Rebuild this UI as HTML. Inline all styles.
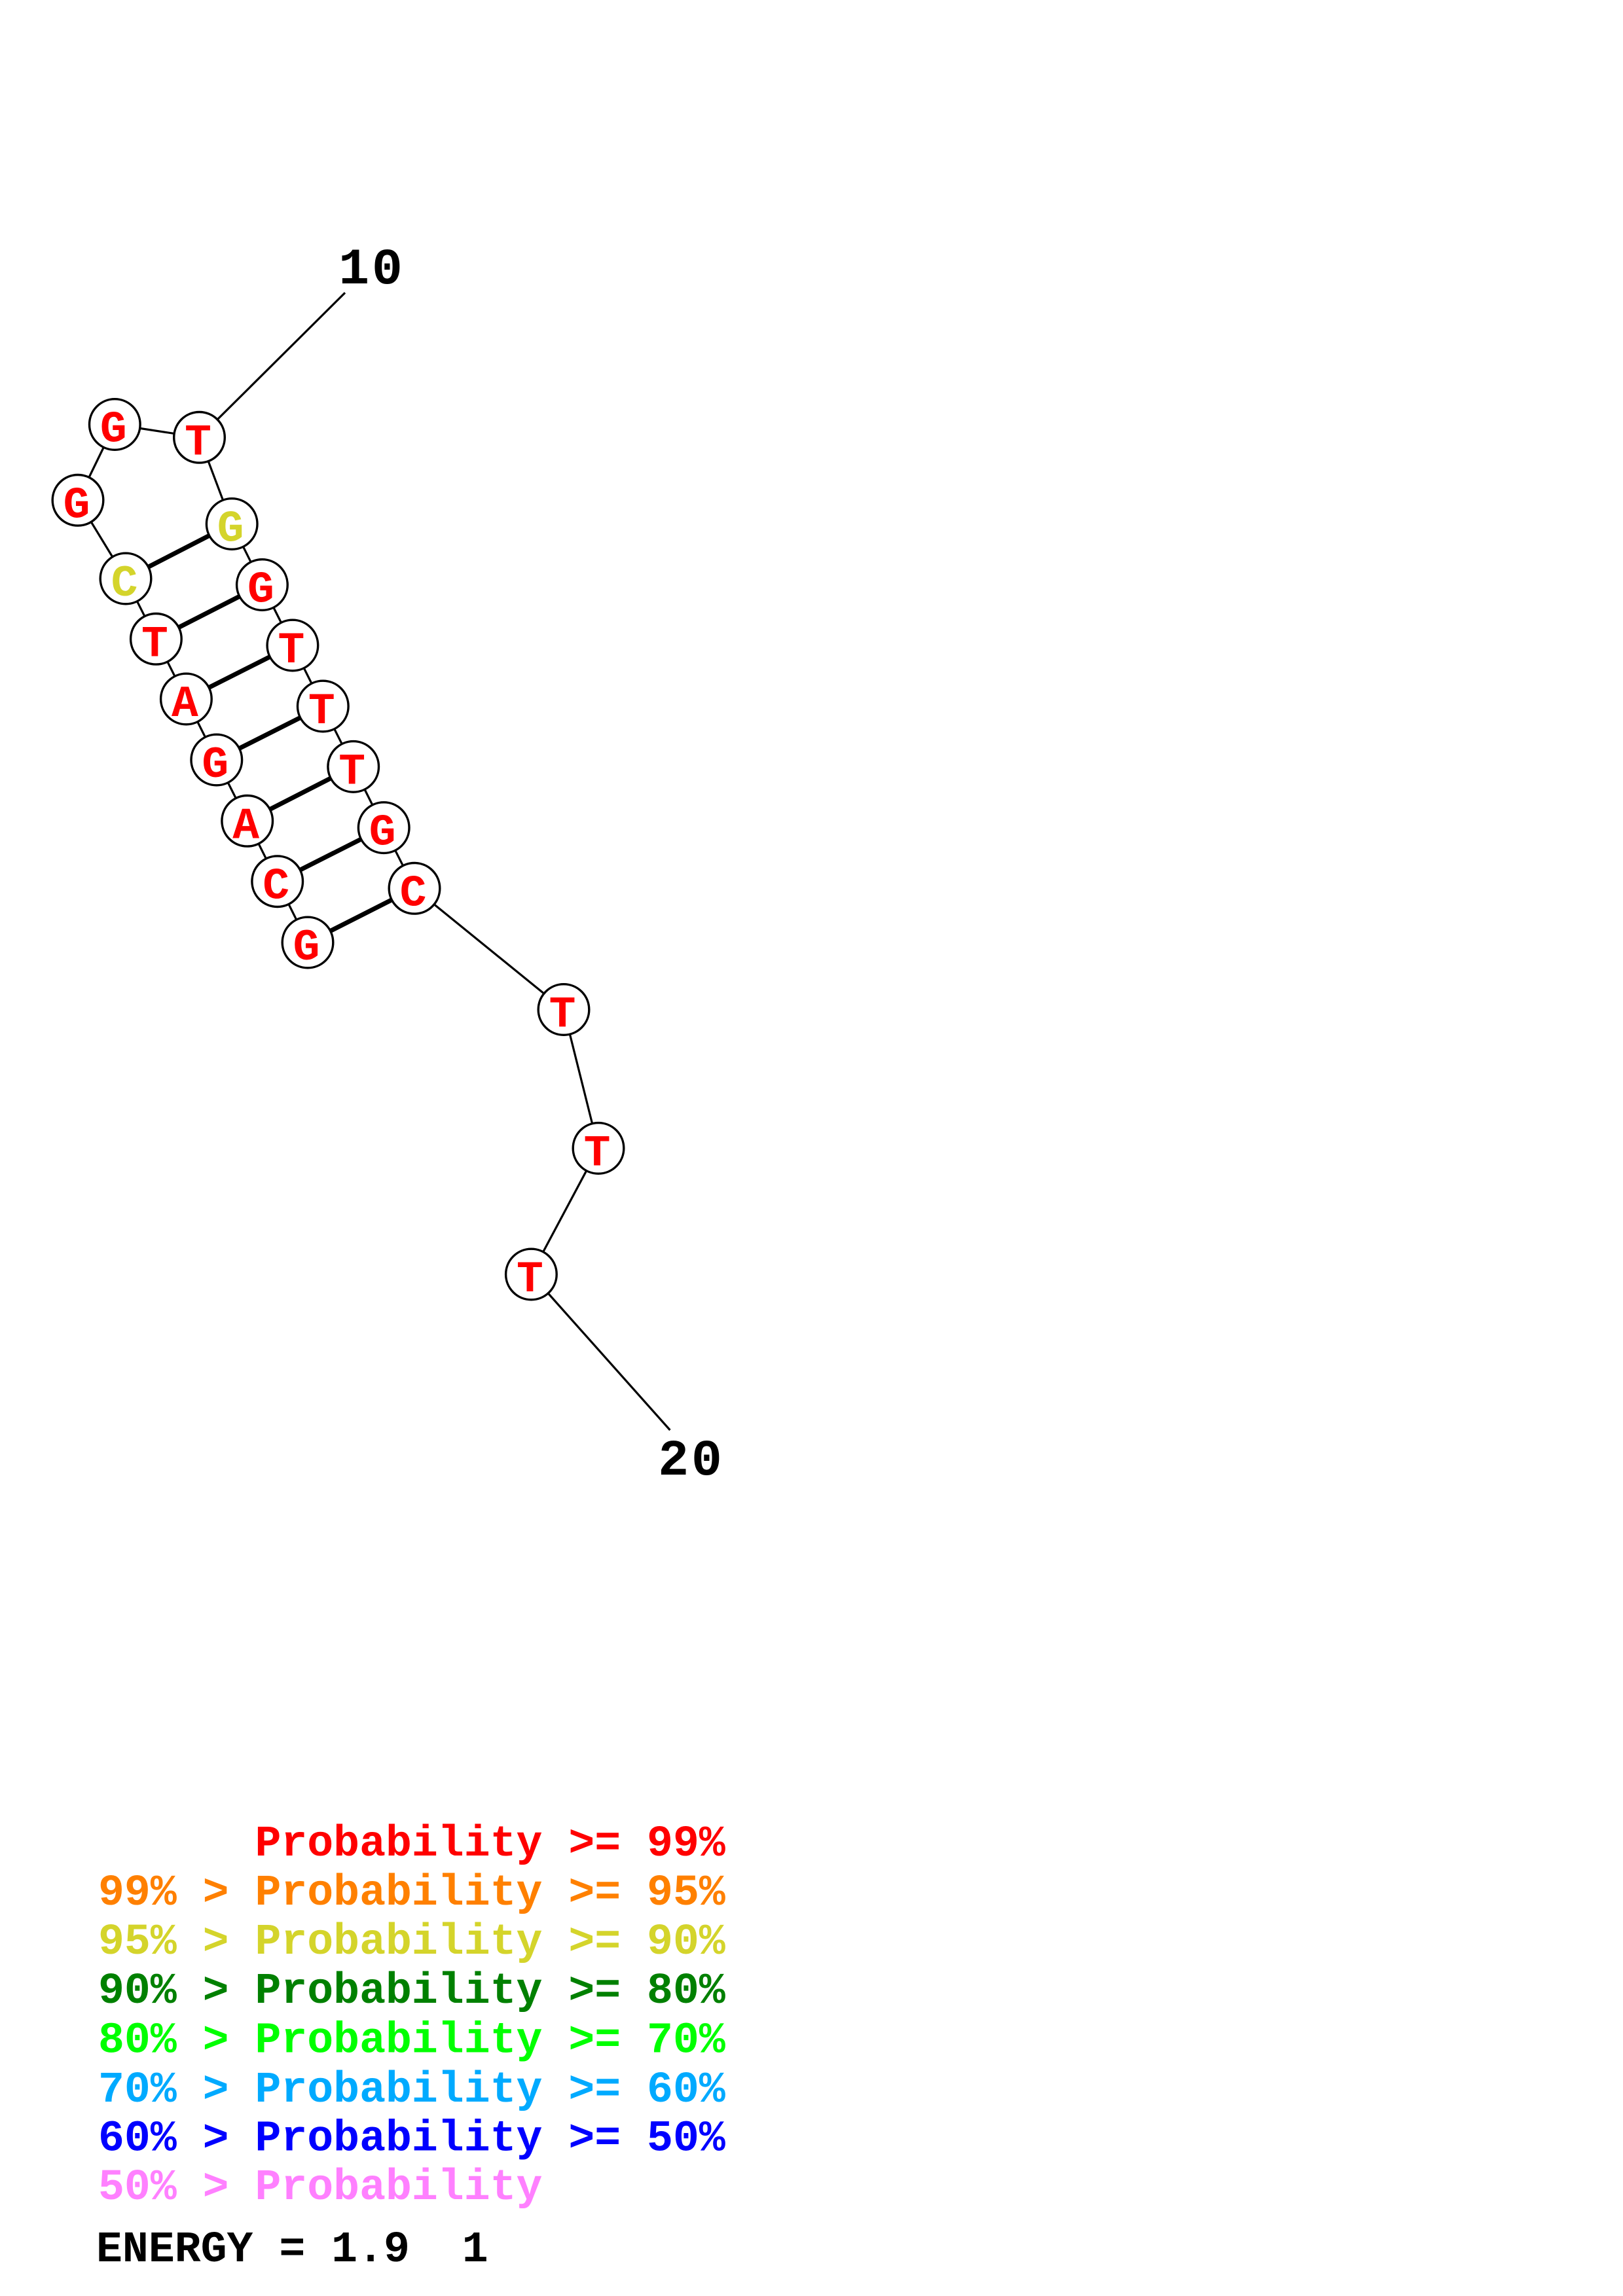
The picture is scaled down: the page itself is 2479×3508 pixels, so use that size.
<!DOCTYPE html>
<html>
<head>
<meta charset="utf-8">
<style>
  html, body { margin: 0; padding: 0; background: #ffffff; }
  svg { display: block; }
  text { font-family: "Liberation Mono", "DejaVu Sans Mono", monospace; font-weight: bold; }
</style>
</head>
<body>
<svg width="2479" height="3508" viewBox="0 0 2479 3508" xmlns="http://www.w3.org/2000/svg">
  <rect x="0" y="0" width="2479" height="3508" fill="#ffffff"/>

  <!-- label connector lines -->
  <line x1="304.5" y1="668.3" x2="527" y2="447.3" stroke="#000" stroke-width="3.2"/>
  <line x1="811.4" y1="1947" x2="1023.4" y2="2185" stroke="#000" stroke-width="3.2"/>

  <!-- backbone -->
  <polyline fill="none" stroke="#000" stroke-width="3.2" stroke-linejoin="round"
    points="470,1440 423.7,1346.7 377.7,1254.3 330.8,1161 284.4,1068 238.4,976.3 192,884 119,764.3 175.3,648.5 304.5,668.3 354.2,800.5 400.4,893.5 446.9,986 493.3,1079 539.7,1171.4 586.2,1264.6 633,1357.3 861,1542.5 914,1754.4 811.4,1947"/>

  <!-- base pairs -->
  <g stroke="#000" stroke-width="7">
    <line x1="470" y1="1440" x2="633" y2="1357.3"/>
    <line x1="423.7" y1="1346.7" x2="586.2" y2="1264.6"/>
    <line x1="377.7" y1="1254.3" x2="539.7" y2="1171.4"/>
    <line x1="330.8" y1="1161" x2="493.3" y2="1079"/>
    <line x1="284.4" y1="1068" x2="446.9" y2="986"/>
    <line x1="238.4" y1="976.3" x2="400.4" y2="893.5"/>
    <line x1="192" y1="884" x2="354.2" y2="800.5"/>
  </g>

  <!-- nodes -->
  <g fill="#ffffff" stroke="#000" stroke-width="3.4">
    <circle cx="470" cy="1440" r="38.8"/>
    <circle cx="423.7" cy="1346.7" r="38.8"/>
    <circle cx="377.7" cy="1254.3" r="38.8"/>
    <circle cx="330.8" cy="1161" r="38.8"/>
    <circle cx="284.4" cy="1068" r="38.8"/>
    <circle cx="238.4" cy="976.3" r="38.8"/>
    <circle cx="192" cy="884" r="38.8"/>
    <circle cx="119" cy="764.3" r="38.8"/>
    <circle cx="175.3" cy="648.5" r="38.8"/>
    <circle cx="304.5" cy="668.3" r="38.8"/>
    <circle cx="354.2" cy="800.5" r="38.8"/>
    <circle cx="400.4" cy="893.5" r="38.8"/>
    <circle cx="446.9" cy="986" r="38.8"/>
    <circle cx="493.3" cy="1079" r="38.8"/>
    <circle cx="539.7" cy="1171.4" r="38.8"/>
    <circle cx="586.2" cy="1264.6" r="38.8"/>
    <circle cx="633" cy="1357.3" r="38.8"/>
    <circle cx="861" cy="1542.5" r="38.8"/>
    <circle cx="914" cy="1754.4" r="38.8"/>
    <circle cx="811.4" cy="1947" r="38.8"/>
  </g>

  <!-- node letters -->
  <g font-size="68" text-anchor="middle" fill="#ff0000">
    <text x="468" y="1466">G</text>
    <text x="421.7" y="1372.7">C</text>
    <text x="375.7" y="1280.3">A</text>
    <text x="328.8" y="1187">G</text>
    <text x="282.4" y="1094">A</text>
    <text x="236.4" y="1002.3">T</text>
    <text x="190" y="910" fill="#d4d42b">C</text>
    <text x="117" y="790.3">G</text>
    <text x="173.3" y="674.5">G</text>
    <text x="302.5" y="694.3">T</text>
    <text x="352.2" y="826.5" fill="#d4d42b">G</text>
    <text x="398.4" y="919.5">G</text>
    <text x="444.9" y="1012">T</text>
    <text x="491.3" y="1105">T</text>
    <text x="537.7" y="1197.4">T</text>
    <text x="584.2" y="1290.6">G</text>
    <text x="631" y="1383.3">C</text>
    <text x="859" y="1568.5">T</text>
    <text x="912" y="1780.4">T</text>
    <text x="809.4" y="1973">T</text>
  </g>

  <!-- position labels -->
  <g font-size="78" text-anchor="middle" fill="#000" letter-spacing="4">
    <text x="568" y="433">10</text>
    <text x="1056" y="2253">20</text>
  </g>

  <!-- legend -->
  <g font-size="66.5" xml:space="preserve">
    <text x="150" y="2835" fill="#ff0000" xml:space="preserve">      Probability &gt;= 99%</text>
    <text x="150" y="2910" fill="#ff8000" xml:space="preserve">99% &gt; Probability &gt;= 95%</text>
    <text x="150" y="2985" fill="#d4d42b" xml:space="preserve">95% &gt; Probability &gt;= 90%</text>
    <text x="150" y="3060" fill="#008000" xml:space="preserve">90% &gt; Probability &gt;= 80%</text>
    <text x="150" y="3135.5" fill="#00ff00" xml:space="preserve">80% &gt; Probability &gt;= 70%</text>
    <text x="150" y="3211" fill="#00aaff" xml:space="preserve">70% &gt; Probability &gt;= 60%</text>
    <text x="150" y="3285.5" fill="#0000ff" xml:space="preserve">60% &gt; Probability &gt;= 50%</text>
    <text x="150" y="3360" fill="#ff80ff" xml:space="preserve">50% &gt; Probability</text>
    <text x="147" y="3455" fill="#000000" xml:space="preserve">ENERGY = 1.9  1</text>
  </g>
</svg>
</body>
</html>
